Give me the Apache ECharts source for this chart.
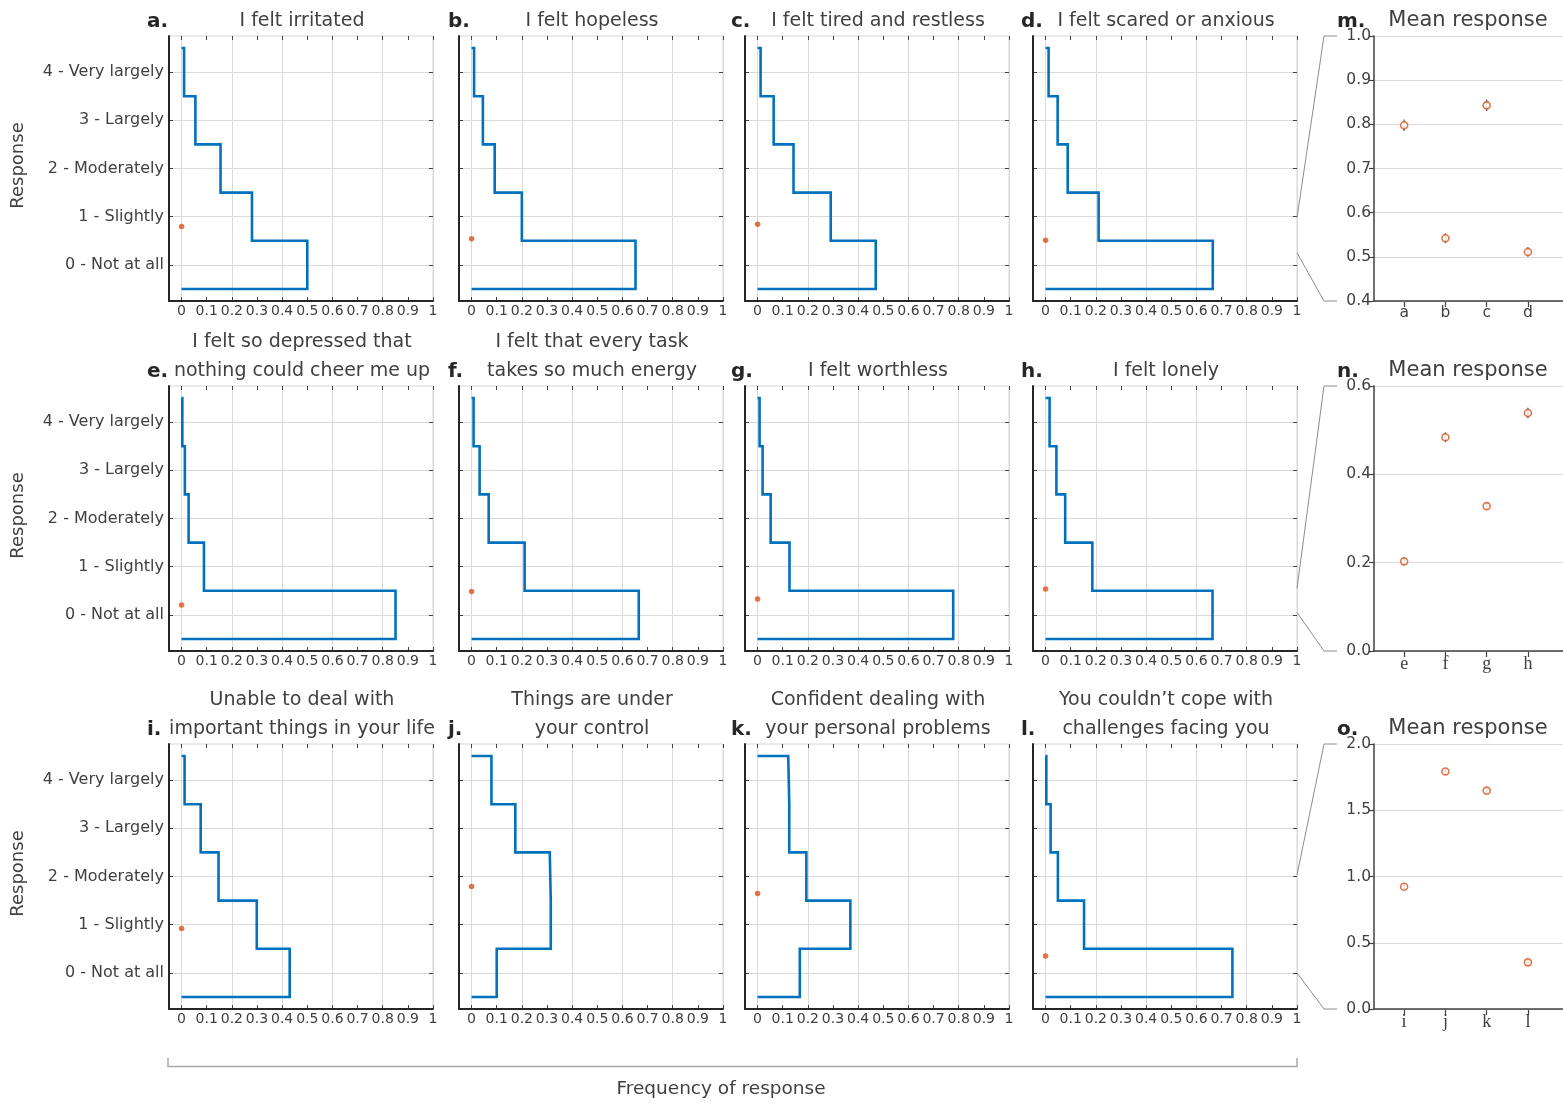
<!DOCTYPE html>
<html>
<head>
<meta charset="utf-8">
<script src="https://cdn.jsdelivr.net/npm/echarts@6/dist/echarts.min.js"></script>
<style>
  html, body { margin: 0; padding: 0; background: #fff; }
  #chart { width: 1563px; height: 1106px; }
</style>
</head>
<body>
<div id="chart"></div>
<script>
// ---- Data -------------------------------------------------------------
// Response levels shown on the histogram y axis (index = level)
const responseLevels = ['0 - Not at all', '1 - Slightly', '2 - Moderately', '3 - Largely', '4 - Very largely'];

const panelLetters = ['a', 'b', 'c', 'd', 'e', 'f', 'g', 'h', 'i', 'j', 'k', 'l'];
const panelTitles = [
  ['I felt irritated'],
  ['I felt hopeless'],
  ['I felt tired and restless'],
  ['I felt scared or anxious'],
  ['I felt so depressed that', 'nothing could cheer me up'],
  ['I felt that every task', 'takes so much energy'],
  ['I felt worthless'],
  ['I felt lonely'],
  ['Unable to deal with', 'important things in your life'],
  ['Things are under', 'your control'],
  ['Confident dealing with', 'your personal problems'],
  ['You couldn\u2019t cope with', 'challenges facing you']
];

// Frequency of each response level 0..4
const freqA = [0.500, 0.280, 0.155, 0.055, 0.010];
const freqB = [0.652, 0.200, 0.092, 0.045, 0.010];
const freqC = [0.470, 0.291, 0.143, 0.064, 0.012];
const freqD = [0.665, 0.211, 0.088, 0.048, 0.012];
const freqE = [0.851, 0.089, 0.028, 0.013, 0.003];
const freqF = [0.665, 0.211, 0.068, 0.032, 0.008];
const freqG = [0.778, 0.127, 0.052, 0.020, 0.008];
const freqH = [0.664, 0.186, 0.078, 0.043, 0.016];
const freqI = [0.430, 0.299, 0.147, 0.076, 0.012];
const freqJ = [0.100, 0.315, 0.311, 0.174, 0.079];
const freqK = [0.168, 0.369, 0.194, 0.126, 0.122];
const freqL = [0.743, 0.153, 0.049, 0.020, 0.003];
const frequencies = [freqA, freqB, freqC, freqD, freqE, freqF, freqG, freqH, freqI, freqJ, freqK, freqL];

// Mean response per item, with its error
const meanCatsTop = ['a', 'b', 'c', 'd'];
const meanTop = [0.798, 0.542, 0.843, 0.511];
const errTop = [0.013, 0.011, 0.013, 0.011];
const meanCatsMid = ['e', 'f', 'g', 'h'];
const meanMid = [0.203, 0.484, 0.328, 0.539];
const errMid = [0.008, 0.011, 0.009, 0.012];
const meanCatsBot = ['i', 'j', 'k', 'l'];
const meanBot = [0.923, 1.793, 1.648, 0.352];
const errBot = [0.02, 0.02, 0.02, 0.015];

// Mean panel value axes: [min, max, step]
const meanAxisTop = [0.4, 1.0, 0.1];
const meanAxisMid = [0, 0.6, 0.2];
const meanAxisBot = [0, 2.0, 0.5];

// ---- Layout -----------------------------------------------------------
const COL_LEFT = [169, 459, 745, 1033];
const ROW_TOP = [36, 386, 744];
const FRAME_W = 264, FRAME_H = 265;
const X_RANGE = [-0.05, 1];
const Y_RANGE = [-0.75, 4.75];
const MEAN_LEFT = 1374, MEAN_RIGHT = 1563;
const MEAN_X_RANGE = [0.27, 4.85];
const LETTER_X = [147, 448, 731, 1021];

const SANS = '"DejaVu Sans", sans-serif';
const SERIF = '"Liberation Serif", "DejaVu Serif", serif';
const TEXT = '#404040';
const DARK = '#262626';
const GRID_LINE = '#dadada';
const BLUE = '#0072BD';
const ORANGE = '#D95319';

const meanRows = [
  { cats: meanCatsTop, vals: meanTop, errs: errTop, axis: meanAxisTop, font: SANS, size: 15.5 },
  { cats: meanCatsMid, vals: meanMid, errs: errMid, axis: meanAxisMid, font: SERIF, size: 18 },
  { cats: meanCatsBot, vals: meanBot, errs: errBot, axis: meanAxisBot, font: SERIF, size: 18 }
];

const grids = [], xAxes = [], yAxes = [], series = [], graphics = [];

function addGrid(g) {
  grids.push(Object.assign({ containLabel: false, outerBoundsMode: 'none' }, g));
  return grids.length - 1;
}

// Outline of a horizontal histogram drawn as stairs (bins centred on integers)
function stairs(f) {
  const pts = [[0, -0.5], [f[0], -0.5]];
  for (let k = 0; k < f.length; k++) {
    pts.push([f[k], k + 0.5]);
    if (k < f.length - 1) pts.push([f[k + 1], k + 0.5]);
  }
  pts.push([0, f.length - 0.5]);
  return pts;
}

function histogramPanel(idx) {
  const row = Math.floor(idx / 4), col = idx % 4;
  const L = COL_LEFT[col], T = ROW_TOP[row];
  const xPx = v => L + (v - X_RANGE[0]) / (X_RANGE[1] - X_RANGE[0]) * FRAME_W;
  const yPx = v => T + (Y_RANGE[1] - v) / (Y_RANGE[1] - Y_RANGE[0]) * FRAME_H;
  const mean = meanRows[row].vals[col];

  // frame and data
  const gF = addGrid({ left: L, top: T, width: FRAME_W, height: FRAME_H, show: true,
    borderColor: '#d4d4d4', borderWidth: 1, backgroundColor: 'rgba(0,0,0,0)' });
  xAxes.push({ gridIndex: gF, type: 'value', min: X_RANGE[0], max: X_RANGE[1], z: 4,
    axisLine: { show: true, onZero: false, lineStyle: { color: DARK, width: 2 } },
    axisTick: { show: false }, axisLabel: { show: false }, splitLine: { show: false } });
  const xF = xAxes.length - 1;
  yAxes.push({ gridIndex: gF, type: 'value', min: Y_RANGE[0], max: Y_RANGE[1], z: 4,
    axisLine: { show: true, onZero: false, lineStyle: { color: DARK, width: 2 } },
    axisTick: { show: false }, axisLabel: { show: false }, splitLine: { show: false } });
  const yF = yAxes.length - 1;
  series.push({ type: 'line', xAxisIndex: xF, yAxisIndex: yF, data: stairs(frequencies[idx]),
    symbol: 'none', silent: true, z: 3, lineStyle: { color: BLUE, width: 2.6, join: 'miter' } });
  series.push({ type: 'scatter', xAxisIndex: xF, yAxisIndex: yF, data: [[0, mean]],
    symbolSize: 5.5, silent: true, z: 4, itemStyle: { color: ORANGE } });

  // x ticks, labels and vertical gridlines
  const x0 = xPx(0);
  const gX = addGrid({ left: x0, top: T, width: L + FRAME_W - x0, height: FRAME_H });
  xAxes.push({ gridIndex: gX, type: 'value', position: 'bottom', min: 0, max: 1, interval: 0.1,
    axisLine: { show: false },
    axisTick: { show: true, inside: true, length: 4, lineStyle: { color: TEXT } },
    axisLabel: { show: true, margin: 3, fontFamily: SANS, fontSize: 14, color: TEXT,
      showMinLabel: true, showMaxLabel: true, hideOverlap: false,
      formatter: v => String(Math.round(v * 10) / 10) },
    splitLine: { show: false } });
  xAxes.push({ gridIndex: gX, type: 'value', position: 'top', min: 0, max: 1, interval: 0.2,
    axisLine: { show: false },
    axisTick: { show: true, inside: true, length: 4, lineStyle: { color: TEXT } },
    minorTick: { show: true, splitNumber: 2, length: 4, lineStyle: { color: TEXT } },
    axisLabel: { show: false },
    splitLine: { show: true, lineStyle: { color: GRID_LINE, width: 1 } } });
  yAxes.push({ gridIndex: gX, type: 'value', min: 0, max: 1, show: false });

  // y ticks, labels and horizontal gridlines
  const gY = addGrid({ left: L, top: yPx(4), width: FRAME_W, height: yPx(0) - yPx(4) });
  xAxes.push({ gridIndex: gY, type: 'value', min: 0, max: 1, show: false });
  yAxes.push({ gridIndex: gY, type: 'value', position: 'left', min: 0, max: 4, interval: 1,
    axisLine: { show: false },
    axisTick: { show: true, inside: true, length: 4, lineStyle: { color: TEXT } },
    axisLabel: { show: col === 0, margin: 5, fontFamily: SANS, fontSize: 16, color: TEXT,
      formatter: v => responseLevels[Math.round(v)] },
    splitLine: { show: true, lineStyle: { color: GRID_LINE, width: 1 } } });
  yAxes.push({ gridIndex: gY, type: 'value', position: 'right', min: 0, max: 4, interval: 1,
    axisLine: { show: false },
    axisTick: { show: true, inside: true, length: 4, lineStyle: { color: TEXT } },
    axisLabel: { show: false }, splitLine: { show: false } });

  // panel title and letter
  const titleLines = panelTitles[idx];
  const cx = L + FRAME_W / 2 + 1;
  const lastY = T - 15;
  titleLines.forEach((line, i) => {
    addText(line, cx, lastY - (titleLines.length - 1 - i) * 29, '19px ' + SANS, TEXT, 'center');
  });
  addText(panelLetters[idx] + '.', LETTER_X[col], lastY + 1, 'bold 20px ' + SANS, DARK, 'left');
}

function meanPanel(row) {
  const spec = meanRows[row];
  const T = ROW_TOP[row];
  const W = MEAN_RIGHT - MEAN_LEFT;
  const [vMin, vMax, vStep] = spec.axis;

  const gM = addGrid({ left: MEAN_LEFT, top: T, width: W, height: FRAME_H });
  xAxes.push({ gridIndex: gM, type: 'value', min: MEAN_X_RANGE[0], max: MEAN_X_RANGE[1], z: 4,
    axisLine: { show: true, onZero: false, lineStyle: { color: TEXT, width: 1.5 } },
    axisTick: { show: false }, axisLabel: { show: false }, splitLine: { show: false } });
  yAxes.push({ gridIndex: gM, type: 'value', min: vMin, max: vMax, interval: vStep, z: 4,
    axisLine: { show: true, onZero: false, lineStyle: { color: TEXT, width: 1.5 } },
    axisTick: { show: true, length: 5, lineStyle: { color: TEXT, width: 1.2 } },
    axisLabel: { margin: 3, fontFamily: SANS, fontSize: 15.5, color: TEXT,
      formatter: v => v.toFixed(1) },
    splitLine: { show: true, lineStyle: { color: GRID_LINE, width: 1 } } });

  const unit = W / (MEAN_X_RANGE[1] - MEAN_X_RANGE[0]);
  const gT = addGrid({ left: MEAN_LEFT + (1 - MEAN_X_RANGE[0]) * unit, top: T,
    width: (spec.cats.length - 1) * unit, height: FRAME_H });
  xAxes.push({ gridIndex: gT, type: 'category', data: spec.cats, boundaryGap: false,
    axisLine: { show: false },
    axisTick: { show: true, interval: 0, length: 6, lineStyle: { color: TEXT, width: 1.2 } },
    axisLabel: { interval: 0, margin: 4, fontFamily: spec.font, fontSize: spec.size, color: TEXT },
    splitLine: { show: false } });
  const xT = xAxes.length - 1;
  yAxes.push({ gridIndex: gT, type: 'value', min: vMin, max: vMax, show: false });
  const yT = yAxes.length - 1;

  series.push({ type: 'custom', xAxisIndex: xT, yAxisIndex: yT, silent: true, z: 3,
    encode: { x: 0, y: 1 },
    data: spec.vals.map((m, i) => [i, m, spec.errs[i]]),
    renderItem: (params, api) => {
      const x = api.value(0), m = api.value(1), e = api.value(2);
      const p1 = api.coord([x, m - e]);
      const p2 = api.coord([x, m + e]);
      return { type: 'line', shape: { x1: p1[0], y1: p1[1], x2: p2[0], y2: p2[1] },
        style: { stroke: '#555555', lineWidth: 1.3 } };
    } });
  series.push({ type: 'scatter', xAxisIndex: xT, yAxisIndex: yT, silent: true, z: 4,
    data: spec.vals.map((m, i) => [i, m]),
    symbol: 'circle', symbolSize: 7,
    itemStyle: { color: '#ffffff', borderColor: ORANGE, borderWidth: 1.6 } });

  addText('Mean response', 1468, T - 15, '21px ' + SANS, TEXT, 'center');
  addText(['m', 'n', 'o'][row] + '.', 1337, T - 14, 'bold 20px ' + SANS, DARK, 'left');
}

function addText(text, x, y, font, color, align, rotation) {
  graphics.push({ type: 'text', x: x, y: y, rotation: rotation || 0, silent: true, z: 10,
    style: { text: text, font: font, fill: color, textAlign: align, textVerticalAlign: 'middle' } });
}

function addPolyline(points, color, width) {
  graphics.push({ type: 'polyline', silent: true, z: 10, shape: { points: points },
    style: { stroke: color, lineWidth: width, fill: null } });
}

for (let i = 0; i < 12; i++) histogramPanel(i);
for (let r = 0; r < 3; r++) meanPanel(r);

// Row axis titles
ROW_TOP.forEach(T => addText('Response', 18, T + FRAME_H / 2 - 3, '18px ' + SANS, TEXT, 'center', Math.PI / 2));

// Lines linking each histogram row to its mean panel (in histogram y units)
const linkFrom = [[0.98, 0.25], [0.55, 0.05], [2.03, 0.0]];
ROW_TOP.forEach((T, r) => {
  const yPx = v => T + (Y_RANGE[1] - v) / (Y_RANGE[1] - Y_RANGE[0]) * FRAME_H;
  const xStart = COL_LEFT[3] + FRAME_W;
  addPolyline([[xStart, yPx(linkFrom[r][0])], [1324, T], [1337, T]], '#8c8c8c', 1);
  addPolyline([[xStart, yPx(linkFrom[r][1])], [1324, T + FRAME_H], [1337, T + FRAME_H]], '#8c8c8c', 1);
});

// Shared x-axis bracket and title
addPolyline([[168, 1058], [168, 1066.5], [1297, 1066.5], [1297, 1058]], '#a8a8a8', 1.5);
addText('Frequency of response', 721, 1089, '18.5px ' + SANS, TEXT, 'center');

const chart = echarts.init(document.getElementById('chart'), null, { renderer: 'canvas', width: 1563, height: 1106 });
chart.setOption({
  animation: false,
  backgroundColor: '#ffffff',
  grid: grids,
  xAxis: xAxes,
  yAxis: yAxes,
  series: series,
  graphic: { elements: graphics }
});
</script>
</body>
</html>
